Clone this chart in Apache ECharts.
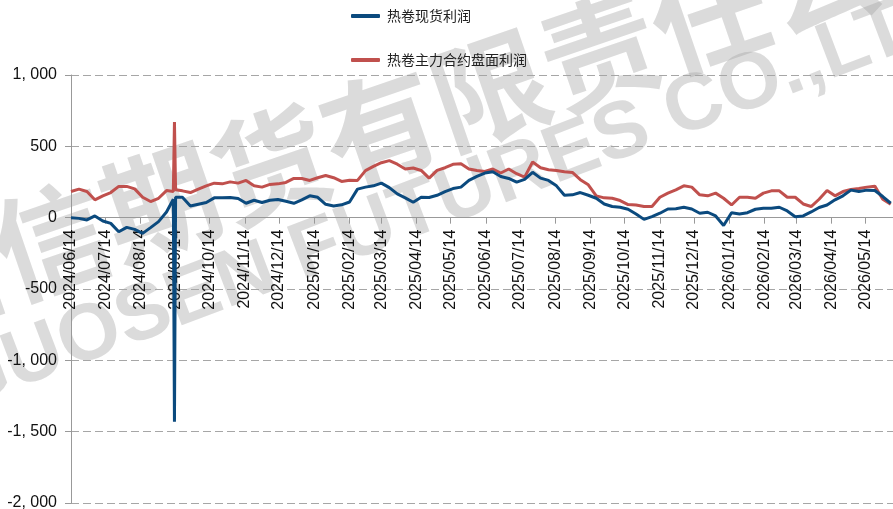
<!DOCTYPE html>
<html>
<head>
<meta charset="utf-8">
<script src="https://cdn.jsdelivr.net/npm/echarts@6.0.0/dist/echarts.min.js"></script>
<style>
  html, body { margin: 0; padding: 0; background: #fff; }
  #chart { width: 893px; height: 509px; }
</style>
</head>
<body>
<div id="chart"></div>
<script>
// axis range (calendar days) and weekly samples starting at firstDay
const firstDay = [2024, 6, 14]
const lastDay = [2026, 6, 7]

// weekly readings, one every 7 days from 2024/06/14
const spotProfit = [
  0, -5, -16, 12, -23, -40, -99, -68, -82, -110, -70, -28, 40, -1430, 143, 82, 94,
  106, 139, 139, 141, 134, 101, 122, 106, 122, 127, 115, 101, 125, 153, 143, 94, 82,
  90, 110, 200, 214, 223, 242, 211, 167, 139, 108, 143, 141, 157, 183, 204, 214, 261,
  289, 313, 322, 289, 275, 249, 268, 318, 277, 261, 223, 157, 160, 176, 157, 136, 96,
  78, 73, 59, 26, -12, 7, 31, 61, 63, 73, 61, 31, 38, 12, -55, 35, 26,
  35, 59, 66, 66, 73, 47, 7, 12, 40, 71, 89, 125, 153, 193, 183, 193, 190, 148, 101
]
const futuresProfit = [
  183, 200, 183, 125, 153, 176, 219, 219, 202, 143, 113, 136, 190, 670, 188, 176, 200,
  223, 242, 237, 251, 242, 261, 223, 214, 233, 237, 247, 275, 275, 261, 280, 296, 280,
  254, 262, 261, 330, 360, 385, 400, 375, 341, 348, 331, 277, 331, 350, 374, 378, 341,
  331, 324, 341, 313, 341, 308, 284, 390, 350, 336, 331, 322, 317, 266, 230, 153, 139,
  136, 120, 92, 89, 78, 78, 143, 172, 195, 223, 214, 160, 153, 172, 136, 89, 143,
  143, 136, 172, 188, 188, 143, 143, 96, 78, 129, 190, 153, 183, 197, 204, 214, 221, 129, 94
]
// single days either side of the 2024/09/13 spike
const spikeDates = ['2024/09/12', '2024/09/14']
const spotSpike = [129, 143]
const futuresSpike = [183, 195]

const seriesNames = ['热卷现货利润', '热卷主力合约盘面利润']
const seriesColors = ['#0b4a7e', '#c0504d']

const yMin = -2000
const yMax = 1000

const pad = n => String(n).padStart(2, '0')
const days = []
for (let t = Date.UTC(firstDay[0], firstDay[1] - 1, firstDay[2]); t <= Date.UTC(lastDay[0], lastDay[1] - 1, lastDay[2]); t += 86400000) {
  const d = new Date(t)
  days.push(d.getUTCFullYear() + '/' + pad(d.getUTCMonth() + 1) + '/' + pad(d.getUTCDate()))
}

function buildPoints(weekly, extra) {
  const pts = weekly.map((v, k) => [7 * k, v])
  spikeDates.forEach((d, i) => pts.push([days.indexOf(d), extra[i]]))
  pts.sort((a, b) => a[0] - b[0])
  return pts
}

const yFormat = v => {
  const a = Math.abs(v)
  const s = a >= 1000 ? Math.floor(a / 1000) + ', ' + String(a % 1000).padStart(3, '0') : String(a)
  return (v < 0 ? '-' : '') + s
}

const isLabelDay = (i, value) => value.slice(8) === '14'

const gridTop = 75
const gridBottom = 6
const plotHeight = 509 - gridTop - gridBottom
// x axis sits on the zero line
const zeroOffset = -plotHeight * (0 - yMin) / (yMax - yMin)

const deg = Math.PI / 180
const markColor = 'rgba(160,160,160,0.38)'

const chart = echarts.init(document.getElementById('chart'))

chart.setOption({
  animation: false,
  backgroundColor: '#fff',
  graphic: [
    {
      type: 'text', x: 435, y: 108, rotation: 19 * deg, silent: true, z: -10,
      style: { text: '国信期货有限责任公司', font: 'bold 116px "Noto Sans CJK SC"', fill: markColor, align: 'center', verticalAlign: 'middle' }
    },
    {
      type: 'text', x: 455, y: 198, rotation: 20.8 * deg, silent: true, z: -10,
      style: { text: 'GUOSEN FUTURES CO.,LTD', font: 'bold 80px "Liberation Sans"', fill: markColor, align: 'center', verticalAlign: 'middle' }
    }
  ],
  legend: {
    orient: 'vertical',
    left: 346,
    top: 4,
    itemGap: 30,
    itemWidth: 29,
    itemHeight: 4,
    icon: 'roundRect',
    data: seriesNames,
    textStyle: { color: '#222', fontSize: 14, fontFamily: '"Noto Sans CJK SC"', padding: [0, 0, 0, 2] }
  },
  grid: { left: 71, right: 0, top: gridTop, bottom: gridBottom, containLabel: false, outerBoundsMode: 'none' },
  xAxis: {
    type: 'category',
    data: days,
    boundaryGap: false,
    offset: zeroOffset,
    axisLine: { onZero: false, lineStyle: { color: '#999', width: 1 } },
    axisTick: { interval: isLabelDay, length: 6, lineStyle: { color: '#999' } },
    axisLabel: {
      interval: isLabelDay,
      rotate: 90,
      margin: 12,
      color: '#111',
      fontSize: 16,
      fontFamily: '"Liberation Sans"'
    },
    splitLine: { show: false }
  },
  yAxis: {
    type: 'value',
    min: yMin,
    max: yMax,
    interval: 500,
    axisLine: { show: true, lineStyle: { color: '#999' } },
    axisTick: { show: true, length: 6, lineStyle: { color: '#999' } },
    axisLabel: { formatter: yFormat, color: '#111', fontSize: 16, fontFamily: '"Liberation Sans"', margin: 14 },
    splitLine: { lineStyle: { color: '#a6a6a6', type: [8, 4], width: 1 } }
  },
  series: [
    {
      name: seriesNames[1],
      type: 'line',
      data: buildPoints(futuresProfit, futuresSpike),
      showSymbol: false,
      color: seriesColors[1],
      lineStyle: { width: 3 },
      z: 2
    },
    {
      name: seriesNames[0],
      type: 'line',
      data: buildPoints(spotProfit, spotSpike),
      showSymbol: false,
      color: seriesColors[0],
      lineStyle: { width: 3 },
      z: 3
    }
  ]
})
</script>
</body>
</html>
